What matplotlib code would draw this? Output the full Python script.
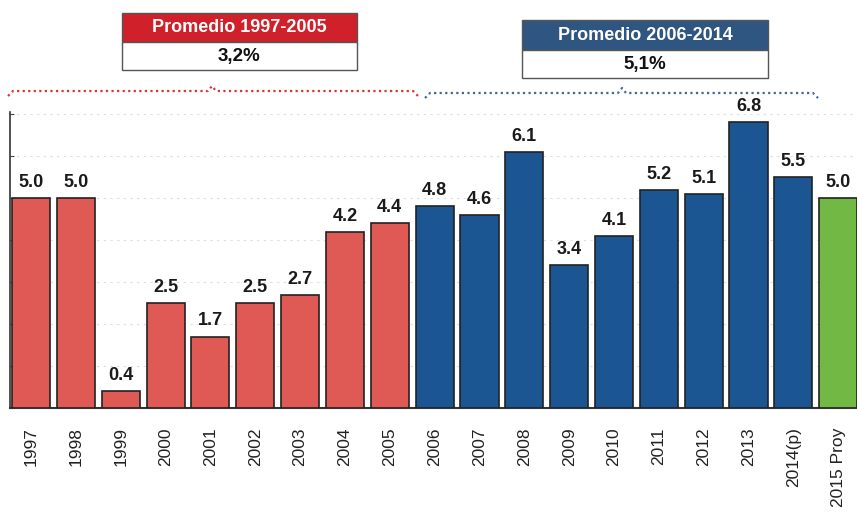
import numpy as np
import matplotlib.pyplot as plt
from matplotlib.patches import Rectangle

plt.rcParams["font.family"] = ["Liberation Sans", "DejaVu Sans"]

years = ["1997", "1998", "1999", "2000", "2001", "2002", "2003", "2004", "2005",
         "2006", "2007", "2008", "2009", "2010", "2011", "2012", "2013", "2014(p)",
         "2015 Proy"]
growth = [5.0, 5.0, 0.4, 2.5, 1.7, 2.5, 2.7, 4.2, 4.4,
          4.8, 4.6, 6.1, 3.4, 4.1, 5.2, 5.1, 6.8, 5.5, 5.0]
period = ["a"] * 9 + ["b"] * 9 + ["c"]
avg_titles = ["Promedio 1997-2005", "Promedio 2006-2014"]
avg_values = ["3,2%", "5,1%"]

colors = {"a": "#df5a55", "b": "#1b5592", "c": "#72b844"}

W, H = 857, 532
fig = plt.figure(figsize=(W / 100, H / 100), dpi=100)
ax = fig.add_axes([10 / W, (H - 408) / H, 1 - 10 / W, (408 - 112) / H])

x = np.arange(len(years))
ax.bar(x, growth, width=0.85, color=[colors[p] for p in period],
       edgecolor="#222222", linewidth=1.2, zorder=3)
for xi, v in zip(x, growth):
    ax.text(xi, v + 0.17, f"{v:.1f}", ha="center", va="bottom",
            fontsize=13, fontweight="bold", color="#1a1a1a")

ax.set_xlim(-0.47, 18.42)
ax.set_ylim(0, 7.05)
ax.set_yticks(np.arange(0, 8, 1))
ax.set_yticklabels([])
ax.tick_params(axis="y", length=3, direction="in", color="#444444")
ax.set_xticks(x)
ax.set_xticklabels(years, rotation=90, fontsize=12.5, color="#222222")
ax.tick_params(axis="x", length=0, pad=14)
ax.yaxis.grid(True, linestyle=(0, (2, 4)), color="#dddddd", linewidth=0.8, zorder=0)
for s in ["top", "right"]:
    ax.spines[s].set_visible(False)
ax.spines["left"].set_color("#333333")
ax.spines["bottom"].set_color("#333333")
ax.spines["left"].set_linewidth(1.2)
ax.spines["bottom"].set_linewidth(1.5)


def to_fig(px, py):
    return px / W, 1 - py / H


# average boxes
boxes = [(122, 13, 357, 42, 70, "#d0202a"), (522, 20, 768, 50, 78, "#2f5681")]
for (x0, y0, x1, ym, y1, c), t, v in zip(boxes, avg_titles, avg_values):
    fx0, fy_top = to_fig(x0, y0)
    fx1, fy_mid = to_fig(x1, ym)
    _, fy_bot = to_fig(x1, y1)
    fig.patches.append(Rectangle((fx0, fy_mid), fx1 - fx0, fy_top - fy_mid,
                                 transform=fig.transFigure, facecolor=c,
                                 edgecolor="#555555", linewidth=1))
    fig.patches.append(Rectangle((fx0, fy_bot), fx1 - fx0, fy_mid - fy_bot,
                                 transform=fig.transFigure, facecolor="white",
                                 edgecolor="#555555", linewidth=1))
    fig.text((fx0 + fx1) / 2, (fy_top + fy_mid) / 2, t, ha="center", va="center",
             color="white", fontsize=13, fontweight="bold")
    fig.text((fx0 + fx1) / 2, (fy_mid + fy_bot) / 2, v, ha="center", va="center",
             color="#111111", fontsize=13.5, fontweight="bold")

# dotted braces
braces = [(8, 418, 212, 90, "#d9343a"), (425, 818, 622, 92, "#3d6a9a")]
for x0, x1, xm, yb, c in braces:
    px = [x0, x0 + 5, xm - 4, xm, xm + 4, x1 - 5, x1]
    py = [yb + 6, yb + 1, yb + 1, yb - 4, yb + 1, yb + 1, yb + 6]
    fx = [p / W for p in px]
    fy = [1 - p / H for p in py]
    fig.add_artist(plt.Line2D(fx, fy, transform=fig.transFigure, color=c,
                              linestyle=(0, (1, 1.5)), linewidth=1.6))

fig.savefig("out.png", dpi=100, facecolor="white")
